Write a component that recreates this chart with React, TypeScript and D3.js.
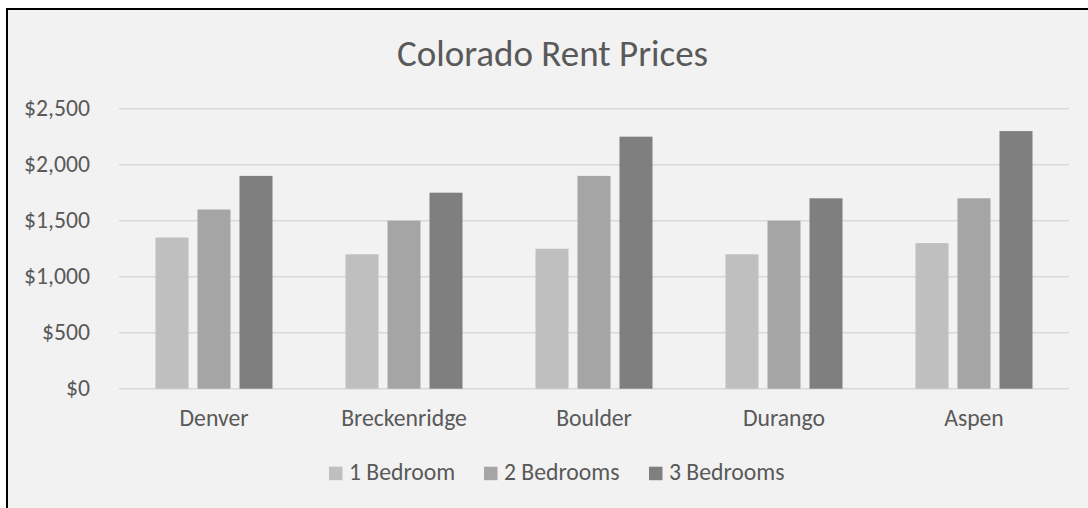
import * as d3 from "d3";
import React from "react";

const cities = ["Denver", "Breckenridge", "Boulder", "Durango", "Aspen"];
const seriesNames = ["1 Bedroom", "2 Bedrooms", "3 Bedrooms"];
const oneBedroom = [1350, 1200, 1250, 1200, 1300];
const twoBedrooms = [1600, 1500, 1900, 1500, 1700];
const threeBedrooms = [1900, 1750, 2250, 1700, 2300];
const yTicks = [0, 500, 1000, 1500, 2000, 2500];

const colors = ["#bfbfbf", "#a5a5a5", "#7f7f7f"];
const textColor = "#595959";
const font = "Carlito, Calibri, 'Open Sans', sans-serif";

const width = 1088;
const height = 508;
const plotLeft = 119;
const plotRight = 1069;
const plotTop = 108.7;
const plotBottom = 388.7;

const App = () => {
  const values = [oneBedroom, twoBedrooms, threeBedrooms];
  const x = d3.scaleBand(cities, [plotLeft, plotRight]);
  const xs = d3
    .scaleBand(seriesNames, [0, x.bandwidth()])
    .paddingInner(0.214)
    .paddingOuter(0.869);
  const y = d3.scaleLinear([0, 2500], [plotBottom, plotTop]);
  const fmt = (v: number) => "$" + d3.format(",")(v);

  // legend layout: marker x for each entry
  const legendX = [329, 484, 649];

  return (
    <div style={{ position: "fixed", left: 0, top: 0, background: "#fff" }}>
      <svg width={width} height={height} style={{ display: "block" }}>
        <rect x={7} y={9} width={width + 20} height={height + 20} fill="#f2f2f2" stroke="#000" strokeWidth={2} />
        <text x={552.5} y={65.5} textAnchor="middle" fontFamily={font} fontSize={37} fill={textColor}>
          Colorado Rent Prices
        </text>
        <g>
          {yTicks.map((t) => (
            <g key={t}>
              <line x1={plotLeft} x2={plotRight} y1={y(t)} y2={y(t)} stroke="#d9d9d9" strokeWidth={1.6} />
              <text x={90} y={y(t) + 7.5} textAnchor="end" fontFamily={font} fontSize={23.7} fill={textColor}>
                {fmt(t)}
              </text>
            </g>
          ))}
        </g>
        <g>
          {values.map((arr, si) =>
            arr.map((v, ci) => (
              <rect
                key={`${si}-${ci}`}
                x={(x(cities[ci]) ?? 0) + (xs(seriesNames[si]) ?? 0)}
                y={y(v)}
                width={xs.bandwidth()}
                height={y(0) - y(v)}
                fill={colors[si]}
              />
            ))
          )}
        </g>
        <g>
          {cities.map((c) => (
            <text
              key={c}
              x={(x(c) ?? 0) + x.bandwidth() / 2}
              y={426}
              textAnchor="middle"
              fontFamily={font}
              fontSize={23.7}
              fill={textColor}
            >
              {c}
            </text>
          ))}
        </g>
        <g>
          {seriesNames.map((s, i) => (
            <g key={s}>
              <rect x={legendX[i]} y={466.7} width={13.5} height={13.5} fill={colors[i]} />
              <text x={legendX[i] + 20} y={480} fontFamily={font} fontSize={23.7} fill={textColor}>
                {s}
              </text>
            </g>
          ))}
        </g>
      </svg>
    </div>
  );
};

export default App;
